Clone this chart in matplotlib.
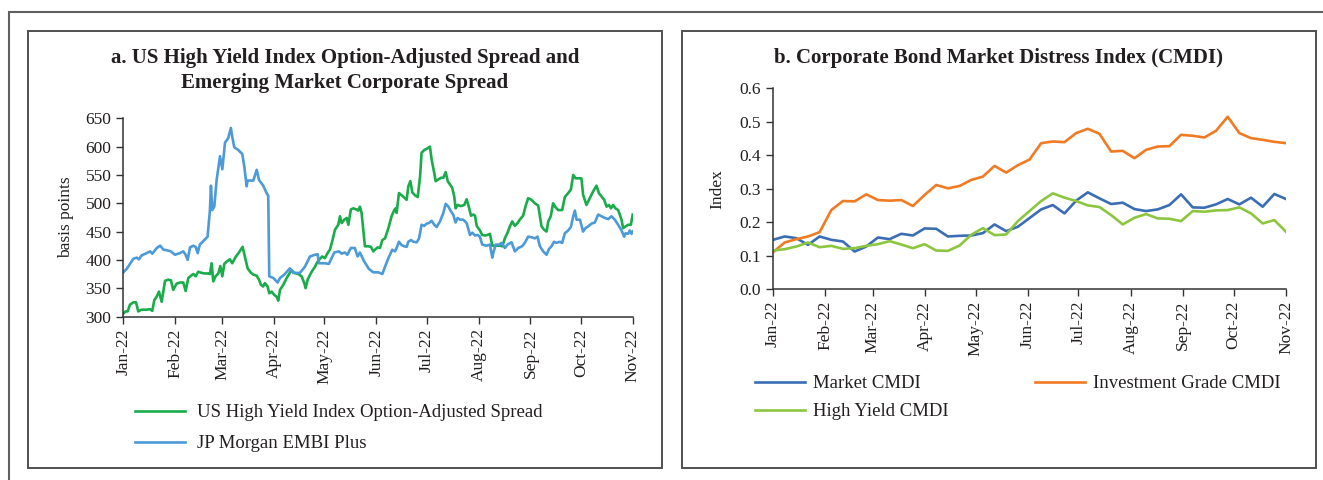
import numpy as np
import matplotlib
matplotlib.use("Agg")
import matplotlib.pyplot as plt
import matplotlib.dates as mdates
from matplotlib.patches import Rectangle
import pandas as pd

plt.rcParams['font.family'] = ['Liberation Serif', 'DejaVu Serif']

# ---------------- Panel a data (days since 1 Jan 2022, basis points) ----------------
hy_days = [0, 1.4, 2.6, 4, 6, 7.6, 8.9, 10.9, 13.9, 15.9, 17.3, 18.5, 19.9, 21.3, 22.9,
           24.9, 26.8, 28.4, 29.8, 31.8, 33.8, 35.8, 37.2, 38.8, 40.4, 41.8, 43.2, 44.7, 46.7, 48.7,
           50.7, 51.7, 52.7, 53.7, 55.1, 56.7, 57.9, 59.1, 60.3, 61.7, 63.6, 65.0, 67.0, 69.0, 71.2,
           74.2, 76.2, 77.6, 79.6, 81, 82.1, 83.5, 84.5, 86.1, 87.1, 88.5, 90.1, 91.5, 92.5, 93.5,
           95.5, 97.5, 99.4, 100.4, 102, 104.4, 106.4, 108, 108.8, 110, 112, 114.4, 115.4, 116.8, 118.7,
           120.3, 121.9, 123.3, 124.7, 126.3, 128.3, 129.3, 130.3, 131.9, 133.3, 134.3, 135.8, 137.2, 139.2, 140.2,
           141.2, 142.2, 144.2, 146.2, 147.8, 149.2,
           150.2, 151.8, 153.2, 154.6, 156.2, 158.2, 160.1, 161.7, 162.5, 163.1, 164.5, 166.1, 167.7, 169.1, 170.1,
           171.3, 172.5, 174.1, 175.7, 177.1, 178.0, 179.6, 181.6, 183.0, 184.0, 185.6, 186.4, 188.0, 189.6, 191.0,
           192.4, 193.6, 195.0, 196.3, 197.5, 198.3, 199.5, 201.5, 203.5, 204.9, 205.9, 207.5, 208.9, 209.9, 210.9,
           212.8, 214.2, 215.8, 217.4, 218.8, 220.2, 222.2, 224.8, 226.2,
           227.7, 229.3, 230.7, 232.1, 233.7, 235.3, 236.6, 238.6, 240.0, 241.6, 243.6, 245.6, 247.6, 248.6, 249.6,
           251.2, 252.6, 253.6, 255.1, 256.5, 257.9, 259.5, 261.9, 263.5, 265.5, 267.1, 268.5, 269.9, 271.9, 273.4,
           274.4, 276.4, 278.4, 280.4, 282.4, 283.8, 285.4, 287.0, 288.4, 289.8, 291.0, 292.3, 293.7, 295.3, 296.3,
           297.3, 298.3, 299.7, 301.3, 302.9, 304.0]
hy_vals = [305, 309, 309, 321, 325, 325, 309, 312, 312, 313, 310, 329, 335, 344, 326,
           363, 365, 364, 347, 358, 360, 360, 345, 368, 372, 375, 371, 379, 377, 376,
           376, 375, 394, 362, 371, 376, 389, 371, 393, 397, 401, 394, 405, 413, 423,
           385, 377, 374, 372, 365, 356, 353, 359, 353, 341, 344, 338, 335, 328, 347,
           356, 368, 377, 382, 377, 375, 371, 359, 350, 365, 377, 388, 394, 400, 406,
           403, 412, 418, 433, 453, 462, 477, 465, 471, 474, 462, 489, 491, 489, 487,
           494, 483, 424, 424, 423, 415,
           418, 422, 421, 435, 438, 456, 477, 488, 491, 483, 518, 514, 510, 506, 530,
           539, 519, 514, 511, 547, 589, 594, 597, 600, 577, 553, 539, 542, 545, 545,
           555, 539, 533, 527, 512, 491, 497, 495, 497, 507, 497, 478, 480, 478, 460,
           452, 444, 443, 444, 446, 425, 425, 425, 424,
           438, 448, 459, 468, 460, 465, 471, 478, 494, 509, 506, 500, 496, 477, 459,
           453, 450, 468, 477, 500, 493, 488, 488, 511, 518, 524, 550, 544, 544, 544,
           515, 497, 509, 521, 531, 518, 512, 506, 494, 497, 491, 497, 491, 488, 480,
           471, 456, 459, 462, 462, 480]

embi_days = [0, 2, 4, 6, 8, 9.3, 11, 14, 16, 17.3, 20, 22, 24, 26, 28.4,
             30.8, 33.8, 35.8, 37.2, 38.4, 39.8, 41.8, 43.2, 44.4, 45.7, 47.7, 50.3, 51.7, 52.3, 53.1,
             54.3, 55.7, 57.7, 59.1, 60.7, 62.6, 64.2, 65, 66.2, 68.6, 71, 72.2,
             73.6, 74.2, 77.6, 79.6, 81, 83.5, 85.5, 86.5, 87.1, 89.5, 92.1, 93.5, 96.1, 99.4, 101.4,
             105.4, 108.4, 111.4, 114.4, 116, 116.8, 120.3, 122.7, 125.9, 128.7, 130.3, 132.3, 133.7, 135.8, 138.2,
             139.8, 141.2, 143.8, 146.6, 149.2,
             150.2, 152.2, 154.6, 156.2, 158.2, 160.5, 162.1, 163.1, 164.5, 166.1, 167.7, 169.1, 170.1, 171.7, 173.1,
             175.1, 176.5, 178.0, 179.6, 181.0, 182.4, 184.0, 185.6, 187.0, 189.0, 191.0, 192.4, 194.0, 195.5, 196.9,
             198.3, 199.5, 200.9, 202.9, 204.9, 206.9, 208.3, 209.9, 211.5, 212.8, 214.2, 216.8, 218.8, 220.2, 220.8,
             222.2, 224.2, 225.8,
             227.7, 229.3, 231.7, 233.7, 235.7, 238.0, 239.6, 241.6, 243.6, 245.6, 247.2, 248.6, 250.6, 252.6, 254.0,
             255.5, 257.1, 258.5, 260.5, 261.9, 263.5, 265.5, 267.1, 268.5, 269.5, 270.5, 272.5, 274.4, 275.8, 277.4,
             279.4, 281.4, 283.4, 285.4, 287.4, 289.4, 291.3, 293.3, 295.3, 297.3, 298.9, 299.7, 301.3, 302.3, 303.3,
             304.0]
embi_vals = [378, 384, 393, 402, 404, 401, 408, 412, 415, 411, 421, 425, 418, 417, 415,
             409, 412, 415, 409, 400, 422, 425, 423, 412, 427, 433, 441, 488, 531, 488,
             494, 541, 583, 560, 607, 615, 633, 618, 599, 594, 587, 565,
             530, 540, 540, 559, 541, 531, 518, 513, 371, 368, 360, 368, 374, 385, 377,
             377, 388, 406, 409, 410, 394, 394, 393, 413, 415, 411, 413, 409, 421, 421,
             406, 413, 397, 384, 378,
             378, 378, 375, 388, 403, 418, 415, 421, 432, 426, 424, 423, 432, 435, 432,
             431, 438, 462, 460, 464, 465, 469, 462, 458, 468, 483, 499, 494, 486, 480,
             466, 474, 471, 471, 465, 444, 448, 443, 444, 441, 427, 425, 427, 404, 412,
             427, 427, 430,
             421, 427, 431, 415, 421, 424, 430, 441, 440, 438, 441, 424, 415, 409, 419,
             424, 432, 430, 432, 430, 447, 452, 458, 477, 487, 471, 471, 450, 456, 459,
             464, 466, 480, 477, 474, 472, 477, 471, 462, 452, 441, 447, 446, 452, 446,
             450]

# ---------------- Panel b data (weekly, index) ----------------
market_cmdi = [0.147, 0.157, 0.152, 0.132, 0.157, 0.147, 0.142, 0.112, 0.127, 0.154,
               0.149, 0.165, 0.160, 0.181, 0.180, 0.157, 0.159, 0.160, 0.167, 0.193,
               0.173, 0.186, 0.212, 0.238, 0.251, 0.226, 0.264, 0.289, 0.271, 0.254,
               0.258, 0.239, 0.233, 0.238, 0.251, 0.283, 0.244, 0.243, 0.253, 0.269,
               0.253, 0.273, 0.246, 0.284, 0.269]
ig_cmdi = [0.110, 0.139, 0.149, 0.157, 0.170, 0.236, 0.263, 0.262, 0.283, 0.266,
           0.264, 0.266, 0.248, 0.281, 0.311, 0.301, 0.308, 0.326, 0.336, 0.368,
           0.348, 0.370, 0.387, 0.436, 0.441, 0.439, 0.466, 0.479, 0.464, 0.411,
           0.413, 0.391, 0.416, 0.426, 0.427, 0.461, 0.458, 0.453, 0.473, 0.515,
           0.466, 0.451, 0.446, 0.440, 0.436]
hy_cmdi = [0.115, 0.119, 0.127, 0.139, 0.125, 0.129, 0.120, 0.122, 0.129, 0.134,
           0.143, 0.133, 0.122, 0.134, 0.115, 0.114, 0.130, 0.162, 0.182, 0.161,
           0.163, 0.203, 0.233, 0.263, 0.286, 0.273, 0.263, 0.250, 0.245, 0.221,
           0.193, 0.213, 0.224, 0.211, 0.210, 0.203, 0.233, 0.231, 0.235, 0.236,
           0.244, 0.226, 0.196, 0.206, 0.171]
cmdi_dates = pd.date_range('2022-01-01', '2022-11-01', periods=len(ig_cmdi))

month_ticks = pd.date_range('2022-01-01', '2022-11-01', freq='MS')

C_HY = '#1aab4b'
C_EMBI = '#4c9ad8'
C_MKT = '#3a6db4'
C_IG = '#f17b23'
C_HYC = '#8cc63f'
TXT = '#231f20'
FS = 12.5
LFS = 13.5

fig = plt.figure(figsize=(13.23, 4.8), dpi=100)
W, H = 1323, 480

def fx(px):
    return px / W

def fy(py):
    return 1 - py / H

# frames
fig.add_artist(Rectangle((fx(9), fy(480 + 5)), fx(1330 - 9), fy(12) - fy(485), transform=fig.transFigure,
                         fill=False, ec='#606060', lw=1.5))
fig.add_artist(Rectangle((fx(28), fy(468)), fx(662 - 28), fy(31) - fy(468), transform=fig.transFigure,
                         fill=False, ec='#505050', lw=1.4))
fig.add_artist(Rectangle((fx(682), fy(468)), fx(1316 - 682), fy(31) - fy(468), transform=fig.transFigure,
                         fill=False, ec='#505050', lw=1.4))

base = mdates.date2num(pd.Timestamp('2022-01-01'))

def style_axis(ax):
    for s in ['top', 'right']:
        ax.spines[s].set_visible(False)
    for s in ['left', 'bottom']:
        ax.spines[s].set_color('#333333')
        ax.spines[s].set_linewidth(1.1)
    ax.tick_params(axis='both', direction='out', length=5, width=1.0, color='#333333',
                   labelsize=FS, labelcolor=TXT)
    ax.set_xticks(month_ticks)
    ax.xaxis.set_major_formatter(mdates.DateFormatter('%b-%y'))
    for lab in ax.get_xticklabels():
        lab.set_rotation(90)
    ax.set_xlim(month_ticks[0], month_ticks[-1])

# ---- panel a ----
axa = fig.add_axes([fx(123.3), fy(316.5), fx(632.7 - 123.3), fy(118.3) - fy(316.5)])
la, = axa.plot(base + np.array(hy_days), hy_vals, color=C_HY, lw=1.9,
               label='US High Yield Index Option-Adjusted Spread')
lb, = axa.plot(base + np.array(embi_days), embi_vals, color=C_EMBI, lw=1.9, label='JP Morgan EMBI Plus')
axa.set_ylim(300, 650)
axa.set_yticks(np.arange(300, 651, 50))
style_axis(axa)
axa.set_ylabel('basis points', fontsize=FS, color=TXT, labelpad=8)
fig.text(fx(345), fy(58), 'a. US High Yield Index Option-Adjusted Spread and', ha='center', va='center',
         fontsize=15, fontweight='bold', color=TXT)
fig.text(fx(345), fy(83), 'Emerging Market Corporate Spread', ha='center', va='center',
         fontsize=15, fontweight='bold', color=TXT)
fig.legend(handles=[la, lb], loc='upper left', bbox_to_anchor=(fx(135), fy(404)), frameon=False,
           fontsize=LFS, handlelength=2.67, handletextpad=0.64, labelspacing=0.75, borderaxespad=0,
           borderpad=0, labelcolor=TXT)

# ---- panel b ----
axb = fig.add_axes([fx(773), fy(289), fx(1286 - 773), fy(88.3) - fy(289)])
l1, = axb.plot(cmdi_dates, market_cmdi, color=C_MKT, lw=1.9, label='Market CMDI')
l2, = axb.plot(cmdi_dates, ig_cmdi, color=C_IG, lw=1.9, label='Investment Grade CMDI')
l3, = axb.plot(cmdi_dates, hy_cmdi, color=C_HYC, lw=1.9, label='High Yield CMDI')
axb.set_ylim(0, 0.6)
axb.set_yticks(np.arange(0, 0.61, 0.1))
axb.yaxis.set_major_formatter(matplotlib.ticker.FormatStrFormatter('%.1f'))
style_axis(axb)
axb.set_ylabel('Index', fontsize=FS, color=TXT, labelpad=10)
fig.text(fx(999), fy(58), 'b. Corporate Bond Market Distress Index (CMDI)', ha='center', va='center',
         fontsize=15, fontweight='bold', color=TXT)
fig.legend(handles=[l1, l3, l2], loc='upper left', bbox_to_anchor=(fx(755), fy(375)), frameon=False,
           fontsize=LFS, ncol=2, handlelength=2.67, handletextpad=0.43, labelspacing=0.59,
           columnspacing=4.6, borderaxespad=0, borderpad=0, labelcolor=TXT)

fig.savefig('out.png', dpi=100)
